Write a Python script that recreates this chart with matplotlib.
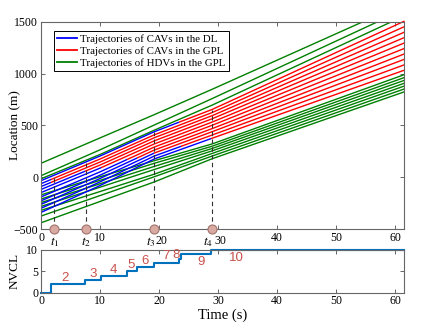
import numpy as np
import matplotlib
matplotlib.use('Agg')
import matplotlib.pyplot as plt
from matplotlib.patches import Rectangle

plt.rcParams['font.family'] = 'Liberation Serif'
plt.rcParams['mathtext.fontset'] = 'stix'
plt.rcParams['font.size'] = 8.5

# trajectory sample times (s)
t_samp = [0, 10, 19.2, 29, 61.5]

# HDVs ahead of the CAVs (GPL), location in m at t_samp
hdv_front = [
    [135, 380, 605, 850, 1680],
    [15, 265, 505, 760, 1620],
    [-15, 220, 455, 697, 1558],
]
# HDVs behind (GPL)
hdv_rear = [
    [-170, 5, 160, 322, 990],
    [-210, -30, 135, 300, 962],
    [-245, -63, 105, 278, 935],
    [-282, -96, 75, 255, 907],
    [-320, -138, 30, 230, 880],
    [-375, -177, 5, 205, 852],
    [-440, -234, -45, 179, 824],
]
# CAVs, start in the DL and change to the GPL
cav = [
    [-33, 205, 440, 655, 1506],
    [-62, 176, 410, 625, 1453],
    [-90, 147, 382, 595, 1400],
    [-118, 118, 352, 565, 1348],
    [-148, 88, 322, 533, 1296],
    [-190, 52, 292, 502, 1243],
    [-228, 20, 263, 470, 1190],
    [-262, -12, 234, 440, 1138],
    [-300, -45, 205, 408, 1085],
    [-340, -80, 177, 377, 1033],
]
cav_change = [23.4, 1.7, 1.7, 7.4, 10.2, 14.5, 16.2, 19.1, 23.8, 28.8]

# lane-change instants t1..t4 and height of the dashed markers
t_events = [2.25, 7.6, 19.2, 28.9]
event_top = [22, 141, 440, 650]

# number of vehicles that changed lane
nvcl_t = [0, 1.7, 7.4, 10.2, 14.5, 16.2, 19.1, 23.4, 23.8, 28.8, 61.5]
nvcl_n = [0, 2, 3, 4, 5, 6, 7, 8, 9, 10, 10]
lab_text = ['2', '3', '4', '5', '6', '7', '8', '9', '10']
lab_x = [4.0, 8.8, 12.3, 15.2, 17.7, 21.1, 22.8, 27.1, 33.1]
lab_y = [3.5, 4.3, 5.3, 6.4, 7.4, 8.6, 8.8, 7.3, 8.1]

fig = plt.figure(figsize=(4.23, 3.35), dpi=100)
ax = fig.add_axes([0.097, 0.3164, 0.858, 0.618])
ax2 = fig.add_axes([0.097, 0.1263, 0.858, 0.1275])

blue, red, green = '#0000ff', '#ff0000', '#008000'
lw = 1.0

for x in hdv_front + hdv_rear:
    ax.plot(t_samp, x, color=green, lw=lw)

for x, tc in zip(cav, cav_change):
    lb, = ax.plot(t_samp, x, color=blue, lw=lw)
    lr, = ax.plot(t_samp, x, color=red, lw=lw)
    lb.set_clip_path(Rectangle((0, -600), tc, 2300, transform=ax.transData))
    lr.set_clip_path(Rectangle((tc, -600), 70, 2300, transform=ax.transData))

for te, top in zip(t_events, event_top):
    ax.plot([te, te], [-500, top], color='0.2', lw=0.8, ls=(0, (4, 3)))
ax.plot(t_events, [-500] * 4, 'o', ms=6.5, mfc='#d9aaa2', mec='#a0736b',
        mew=0.8, clip_on=False, zorder=5)

ax.plot([], [], color=blue, lw=1.3, label='Trajectories of CAVs in the DL')
ax.plot([], [], color=red, lw=1.3, label='Trajectories of CAVs in the GPL')
ax.plot([], [], color=green, lw=1.3, label='Trajectories of HDVs in the GPL')
leg = ax.legend(loc='upper left', bbox_to_anchor=(0.035, 0.955), borderaxespad=0,
                fontsize=7.8, fancybox=False, framealpha=1, edgecolor='k',
                handlelength=1.85, handletextpad=0.3, labelspacing=0.2,
                borderpad=0.3)
leg.get_frame().set_linewidth(0.7)

ax.set_xlim(0, 61.5)
ax.set_ylim(-500, 1500)
xt = list(range(0, 61, 10))
ax.set_xticks(xt)
# 20 and 30 are written separately, a little to the right of their ticks
ax.set_xticklabels(['' if v in (20, 30) else str(v) for v in xt])
for v in (20, 30):
    ax.text(v + 0.45, -560, str(v), ha='center', va='top')
ax.set_yticks([-500, 0, 500, 1000, 1500])
ax.set_ylabel('Location (m)', fontsize=9.5)
ax.yaxis.set_label_coords(-0.055, 0.5)
for i, te in enumerate(t_events):
    if i < 2:
        ax.text(te, -560, '$t_%d$' % (i + 1), ha='center', va='top', fontsize=9.5)
    else:
        ax.text(te + 0.3, -560, '$t_%d$' % (i + 1), ha='right', va='top',
                fontsize=9.5)

ax2.step(nvcl_t, nvcl_n, where='post', color='#0072bd', lw=1.5, clip_on=False)
for s, x, y in zip(lab_text, lab_x, lab_y):
    ax2.text(x, y, s, color='#c8504b', ha='center', va='center', fontsize=9.5,
             family='Liberation Sans')
ax2.set_xlim(0, 61.5)
ax2.set_ylim(0, 10)
ax2.set_xticks(xt)
ax2.set_yticks([0, 5, 10])
ax2.set_ylabel('NVCL', fontsize=9.5)
ax2.yaxis.set_label_coords(-0.055, 0.5)
ax2.set_xlabel('Time (s)', fontsize=10.5, labelpad=1)

for a in (ax, ax2):
    a.tick_params(direction='in', top=True, right=True, length=3, width=0.6,
                  pad=2, color='0.3')
    for sp in a.spines.values():
        sp.set_color('0.4')
        sp.set_linewidth(0.8)

fig.savefig('out.png', dpi=100)
